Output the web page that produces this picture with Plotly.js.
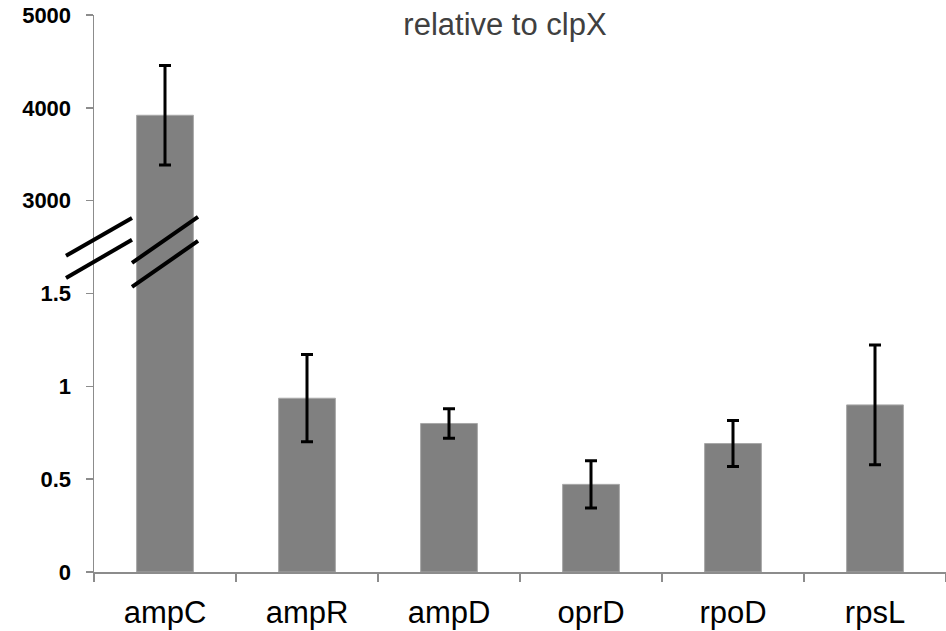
<!DOCTYPE html>
<html>
<head>
<meta charset="utf-8">
<script src="https://cdn.plot.ly/plotly-3.0.1.min.js"></script>
<style>html,body{margin:0;padding:0;background:#fff;}#chart{width:946px;height:631px;}</style>
</head>
<body>
<div id="chart"></div>
<script>
// Data
const categories = ['ampC', 'ampR', 'ampD', 'oprD', 'rpoD', 'rpsL'];
const values = [3920, 0.936, 0.800, 0.472, 0.692, 0.900];
const errors = [536, 0.235, 0.079, 0.127, 0.124, 0.323];
const tickValues = [0, 0.5, 1, 1.5, 3000, 4000, 5000];
const tickLabels = ['0', '0.5', '1', '1.5', '3000', '4000', '5000'];

// Broken axis: 0..1.5 is linear; 3000..5000 sits above the break (1000 per half unit)
function T(v) {
  if (v <= 1.5) return v;
  return 2 + (v - 3000) / 1000 * 0.5;
}

const yPlot = values.map(T);
const errPlus = values.map((v, i) => T(v + errors[i]) - T(v));
const errMinus = values.map((v, i) => T(v) - T(v - errors[i]));

const trace = {
  type: 'bar',
  x: categories,
  y: yPlot,
  width: 0.4,
  marker: {color: '#808080', line: {color: '#a8a8a8', width: 1}},
  error_y: {type: 'data', symmetric: false, array: errPlus, arrayminus: errMinus,
            color: '#000000', thickness: 3, width: 6},
  hoverinfo: 'skip'
};

// break marks (decoration)
function brk(x0, y0, x1, y1) {
  return {type: 'line', xref: 'paper', yref: 'y', x0: x0, y0: y0, x1: x1, y1: y1,
          line: {color: '#000', width: 4}, layer: 'above'};
}
const px = p => (p - 94) / 852;
const shapes = [
  brk(px(66), 1.703, px(132), 1.907),
  brk(px(66), 1.584, px(132), 1.789),
  brk(px(132), 1.665, px(198), 1.913),
  brk(px(132), 1.536, px(198), 1.783)
];

const layout = {
  width: 946, height: 631,
  margin: {l: 94, r: 0, t: 15, b: 59},
  paper_bgcolor: '#fff', plot_bgcolor: '#fff',
  showlegend: false,
  bargap: 0.6,
  title: {text: 'relative to clpX', x: 505/946, xanchor: 'center', xref: 'container',
          y: 1 - 24/631, yanchor: 'middle', yref: 'container',
          font: {family: 'Liberation Sans, Arial, sans-serif', size: 31, color: '#404040'}},
  xaxis: {
    type: 'category', range: [-0.5, 5.5],
    showline: true, linecolor: '#8c8c8c', linewidth: 1.5,
    ticks: 'outside', ticklen: 8, tickcolor: '#8c8c8c', tickwidth: 1.5,
    tickson: 'boundaries', showgrid: false, zeroline: false,
    tickfont: {family: 'Liberation Sans, Arial, sans-serif', size: 31, color: '#000'},
    ticklabelstandoff: 12
  },
  yaxis: {
    range: [0, 3],
    tickmode: 'array', tickvals: tickValues.map(T), ticktext: tickLabels,
    showline: true, linecolor: '#8c8c8c', linewidth: 1.5,
    ticks: 'outside', ticklen: 7, tickcolor: '#8c8c8c', tickwidth: 1.5,
    showgrid: false, zeroline: false,
    tickfont: {family: 'Liberation Sans, Arial, sans-serif', size: 22, color: '#000', weight: 'bold'},
    ticklabelstandoff: 10
  },
  shapes: shapes
};

Plotly.newPlot('chart', [trace], layout, {displayModeBar: false, staticPlot: true});
</script>
</body>
</html>
